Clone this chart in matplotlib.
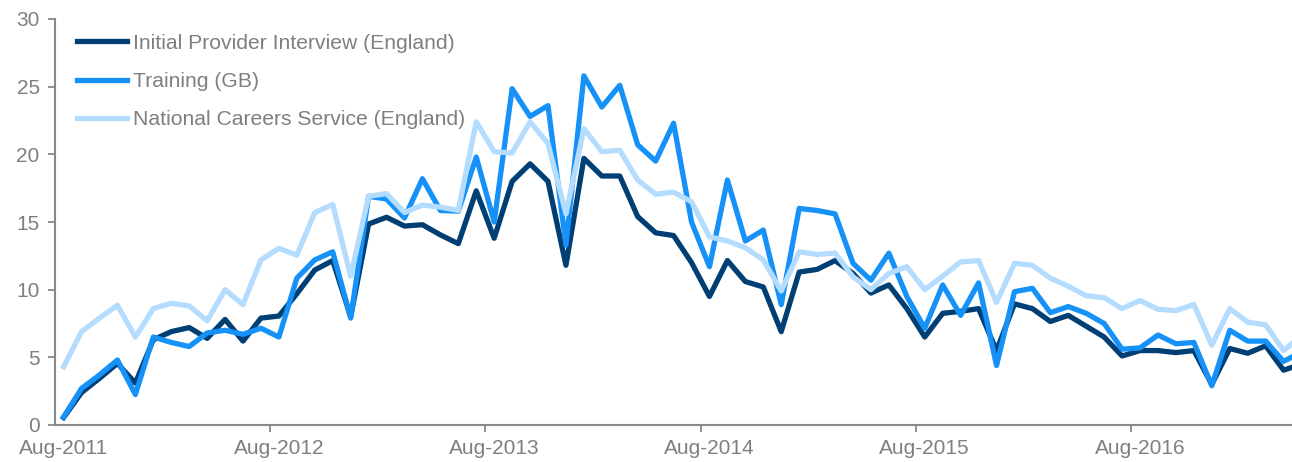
import matplotlib.pyplot as plt

plt.rcParams['font.family'] = ['Liberation Sans', 'DejaVu Sans']

# monthly series, Aug-2011 .. May-2017 (last point partly off the right edge)
interview = [0.55, 2.4, 3.45, 4.55, 3.1, 6.3, 6.9, 7.2, 6.4, 7.8, 6.2, 7.9,
             8.05, 9.7, 11.45, 12.15, 8.0, 14.85, 15.35, 14.7, 14.8, 14.05, 13.4, 17.3,
             13.8, 18.0, 19.3, 18.0, 11.8, 19.7, 18.4, 18.4, 15.4, 14.2, 14.0, 12.0,
             9.5, 12.15, 10.6, 10.2, 6.9, 11.3, 11.5, 12.15, 11.2, 9.75, 10.35, 8.6,
             6.5, 8.25, 8.4, 8.6, 5.5, 8.95, 8.6, 7.65, 8.1, 7.3, 6.5, 5.1,
             5.5, 5.5, 5.35, 5.5, 3.0, 5.65, 5.3, 5.85, 4.05, 4.5]
training = [0.6, 2.7, 3.7, 4.8, 2.25, 6.5, 6.1, 5.8, 6.8, 7.0, 6.7, 7.15,
            6.5, 10.85, 12.2, 12.8, 7.9, 16.9, 16.7, 15.3, 18.2, 15.85, 15.8, 19.8,
            15.0, 24.85, 22.8, 23.6, 13.3, 25.8, 23.5, 25.1, 20.7, 19.5, 22.3, 15.0,
            11.7, 18.1, 13.6, 14.4, 8.9, 16.0, 15.85, 15.6, 11.95, 10.7, 12.7, 9.5,
            7.15, 10.35, 8.1, 10.5, 4.4, 9.85, 10.1, 8.3, 8.75, 8.25, 7.5, 5.6,
            5.7, 6.65, 6.0, 6.1, 2.9, 7.0, 6.2, 6.2, 4.7, 5.4]
careers = [4.3, 6.9, 7.9, 8.85, 6.5, 8.6, 9.0, 8.8, 7.7, 10.0, 8.9, 12.2,
           13.05, 12.55, 15.7, 16.3, 11.0, 16.9, 17.1, 15.7, 16.25, 16.1, 15.85, 22.4,
           20.2, 20.1, 22.4, 20.8, 15.6, 21.9, 20.2, 20.3, 18.1, 17.05, 17.2, 16.5,
           13.9, 13.6, 13.1, 12.2, 9.9, 12.8, 12.6, 12.7, 10.95, 10.0, 11.2, 11.7,
           10.0, 11.0, 12.05, 12.15, 9.05, 11.95, 11.8, 10.85, 10.25, 9.55, 9.4, 8.6,
           9.2, 8.55, 8.45, 8.9, 5.9, 8.6, 7.6, 7.4, 5.5, 6.6]
tick_labels = ['Aug-2011', 'Aug-2012', 'Aug-2013', 'Aug-2014', 'Aug-2015', 'Aug-2016']

months = list(range(len(interview)))
grey = '#7f7f7f'

fig = plt.figure(figsize=(12.92, 4.62), dpi=100)
ax = fig.add_axes([55 / 1292, 37 / 462, 1237 / 1292, 406 / 462])

ax.plot(months, interview, color='#003f74', lw=3.8, label='Initial Provider Interview (England)',
        solid_joinstyle='round')
ax.plot(months, training, color='#1591f8', lw=3.8, label='Training (GB)', solid_joinstyle='round')
ax.plot(months, careers, color='#b4dcfe', lw=3.8, label='National Careers Service (England)',
        solid_joinstyle='round')

ax.set_xlim(-0.48, 68.47)
ax.set_ylim(0, 30)
ax.set_yticks(range(0, 31, 5))

label_pos = [12 * i for i in range(len(tick_labels))]
ax.set_xticks(label_pos)
ax.set_xticklabels(tick_labels)
ax.set_xticks([12 * i - 0.5 for i in range(1, 6)], minor=True)
ax.tick_params(axis='x', which='major', length=0, pad=10, labelsize=15, labelcolor=grey)
ax.tick_params(axis='x', which='minor', length=5, width=1.3, color='#898989', direction='out')
ax.tick_params(axis='y', length=5, width=1.3, color='#898989', pad=6, labelsize=15, labelcolor=grey)

for s in ['top', 'right']:
    ax.spines[s].set_visible(False)
for s in ['left', 'bottom']:
    ax.spines[s].set_color('#898989')
    ax.spines[s].set_linewidth(1.5)

leg = ax.legend(loc='upper left', bbox_to_anchor=(0.011, 0.985), frameon=False, fontsize=15.2,
                handlelength=2.35, handletextpad=0.3, labelspacing=0.92, borderaxespad=0)
for t in leg.get_texts():
    t.set_color(grey)

plt.savefig('out.png', dpi=100)
